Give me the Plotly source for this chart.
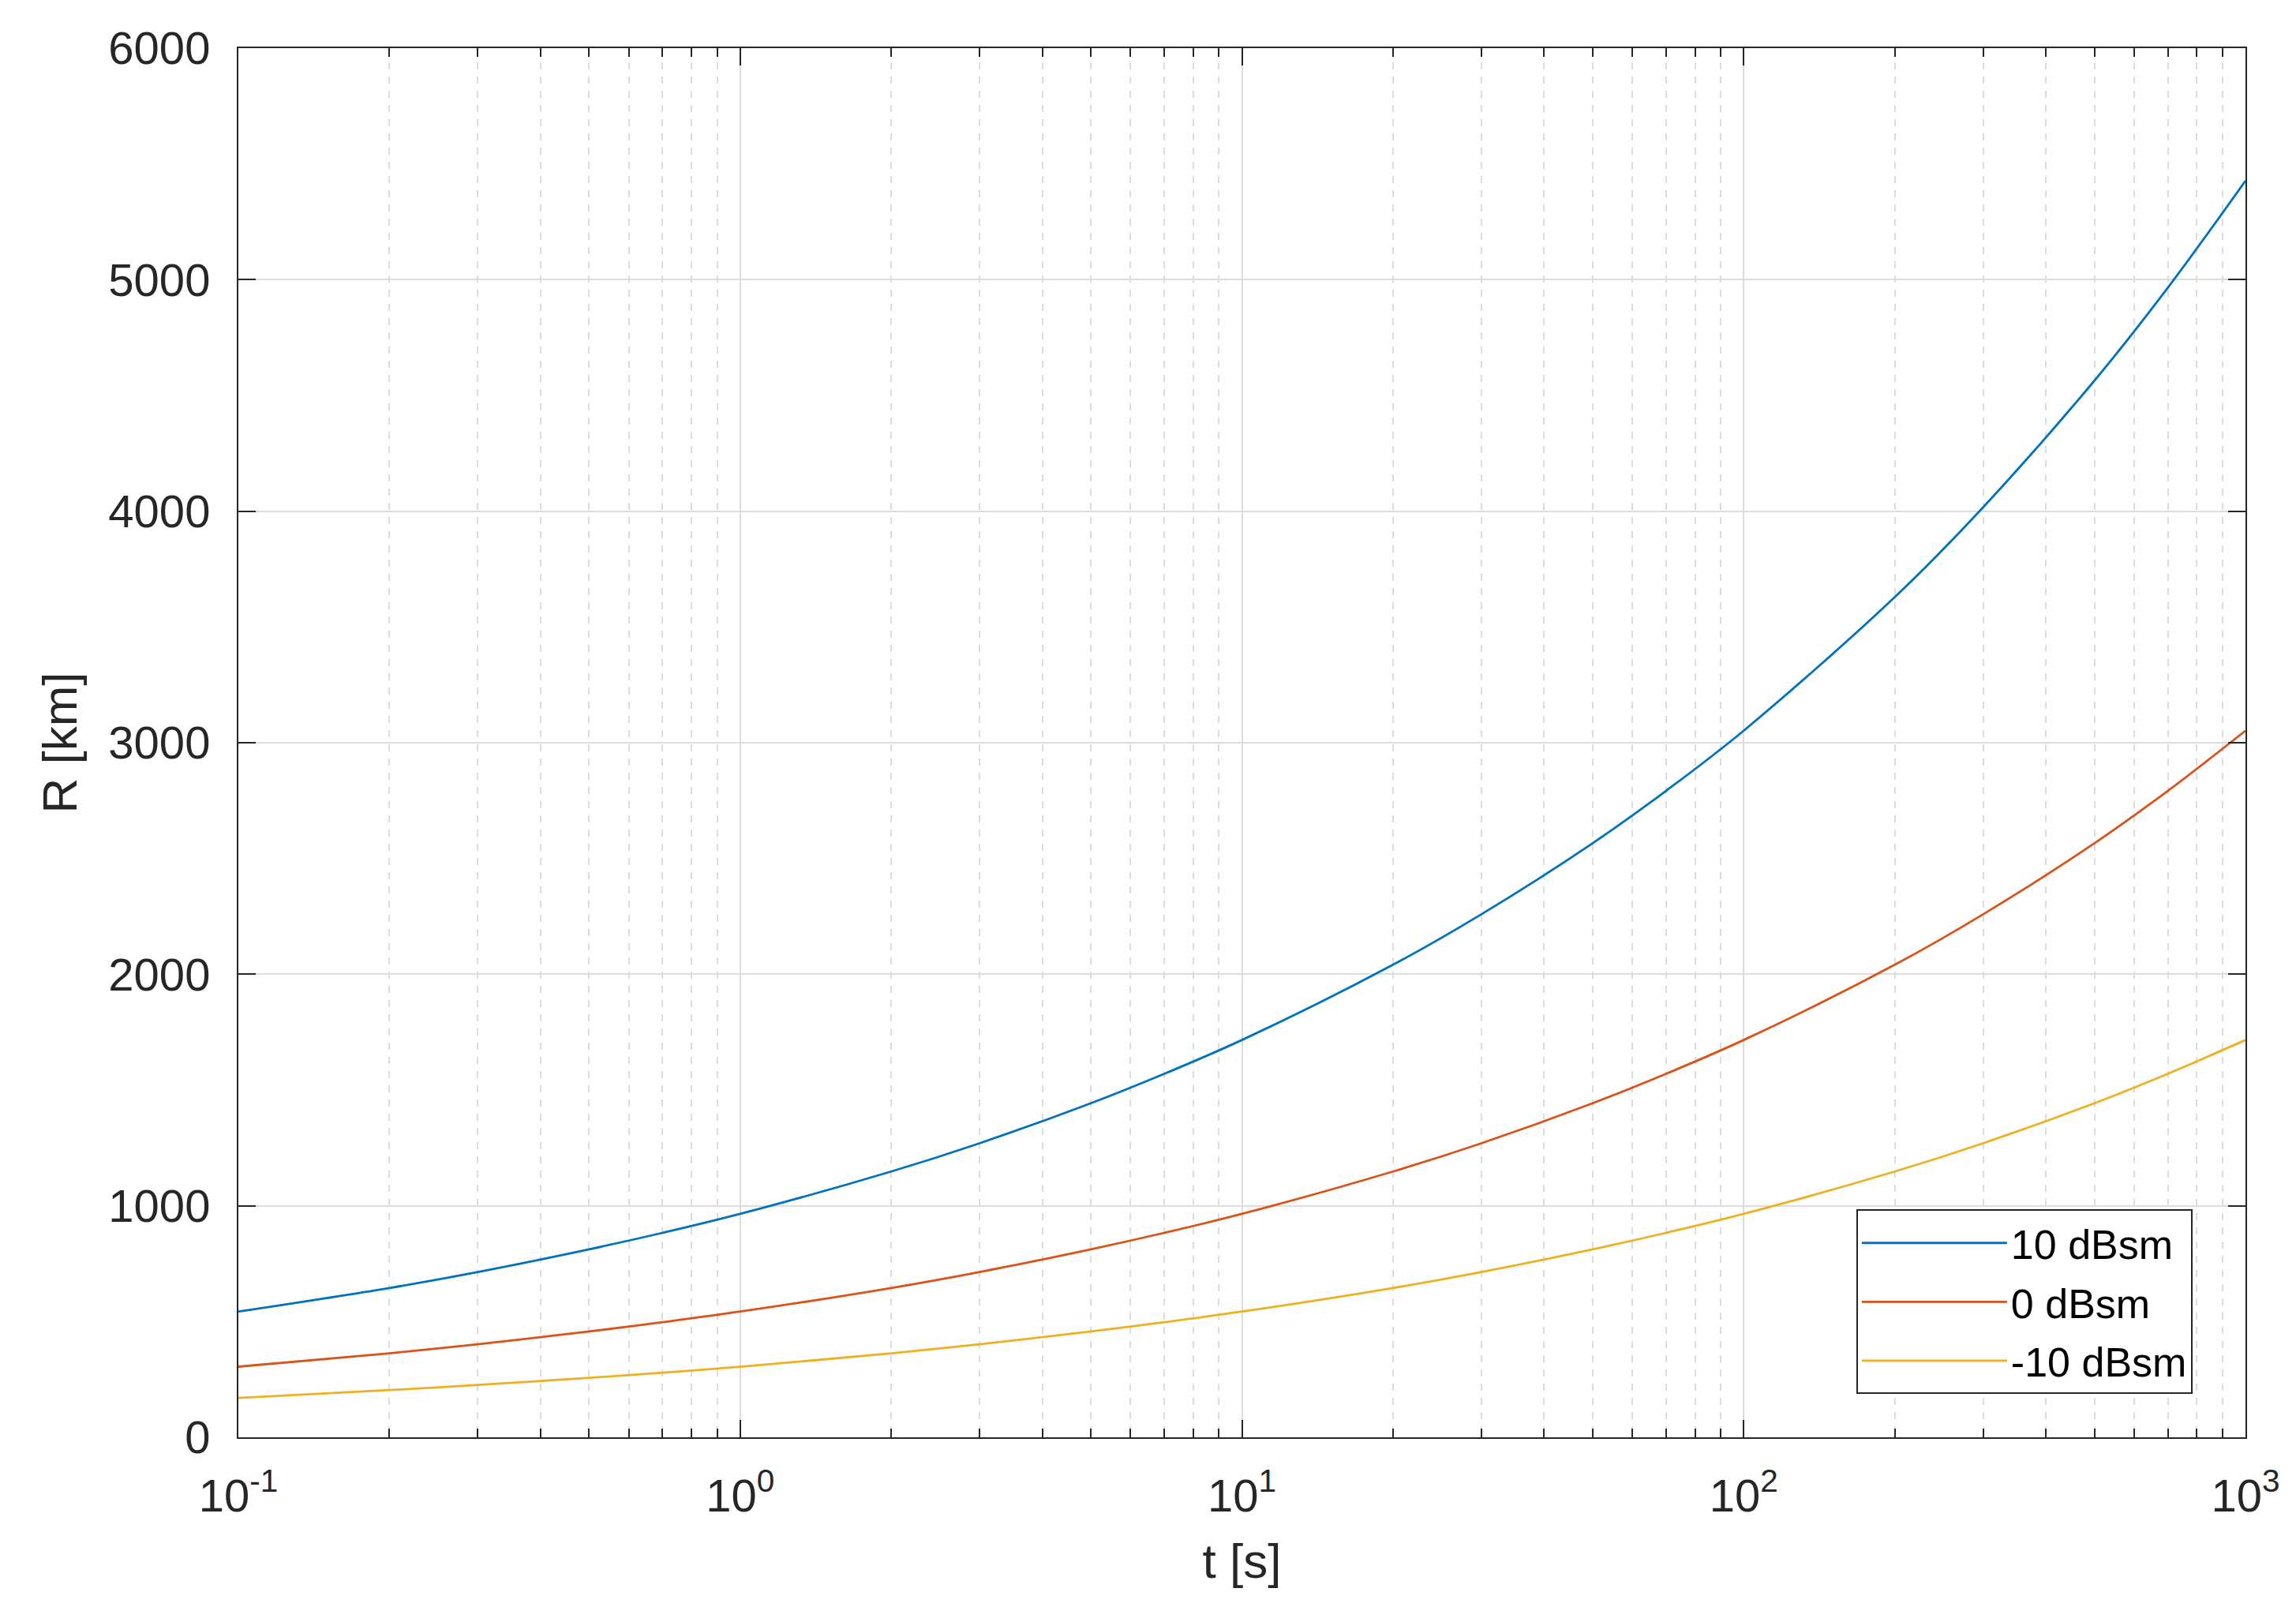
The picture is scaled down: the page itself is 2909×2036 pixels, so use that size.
import plotly.graph_objects as go

# time samples [s] and read-off ranges [km]
t_s = [0.1, 0.2, 0.3, 0.5, 0.7, 1, 2, 3, 5, 7, 10, 20, 30, 50, 70,
       100, 200, 300, 500, 700, 1000]
r_10dbsm = [543, 645, 714, 812, 883, 965, 1148, 1270, 1443, 1570, 1716,
            2041, 2259, 2566, 2792, 3052, 3629, 4017, 4564, 4965, 5427]
r_0dbsm = [305, 363, 402, 457, 497, 543, 645, 714, 812, 883, 965,
           1148, 1270, 1443, 1570, 1716, 2041, 2259, 2566, 2792, 3052]
r_m10dbsm = [170, 204, 226, 257, 279, 305, 363, 402, 457, 497, 543,
             645, 714, 812, 883, 965, 1148, 1270, 1443, 1570, 1716]

series_names = ["10 dBsm", "0 dBsm", "-10 dBsm"]
series_colors = ["#0072BD", "#D95319", "#EDB120"]

x_tickvals = [0.1, 1, 10, 100, 1000]
x_ticktext = ["10<sup>-1</sup>", "10<sup>0</sup>", "10<sup>1</sup>",
              "10<sup>2</sup>", "10<sup>3</sup>"]
x_minor = [m * d for d in (0.1, 1, 10, 100) for m in range(2, 10)]

FONT = "Arial, 'Liberation Sans', Helvetica, sans-serif"
AX = "#262626"

fig = go.Figure()
for name, ys, col in zip(series_names, [r_10dbsm, r_0dbsm, r_m10dbsm], series_colors):
    fig.add_trace(go.Scatter(
        x=t_s, y=ys, name=name, mode="lines", legendgroup=name,
        line=dict(color=col, width=2.8, shape="spline"),
    ))

fig.update_layout(
    width=2909, height=2036,
    margin=dict(l=294, r=72, t=53, b=223),
    paper_bgcolor="white", plot_bgcolor="white",
    font=dict(family=FONT, size=58, color=AX),
    legend=dict(
        x=0.9736, y=0.031, xanchor="right", yanchor="bottom",
        bgcolor="white", bordercolor=AX, borderwidth=2,
        font=dict(size=52, color="#000000"),
        itemwidth=184,
        tracegroupgap=4,
    ),
    xaxis=dict(
        type="log", range=[-1, 3],
        tickvals=x_tickvals, ticktext=x_ticktext,
        ticks="inside", ticklen=22, tickwidth=2, tickcolor=AX,
        showline=True, linecolor=AX, linewidth=2, mirror="allticks",
        showgrid=True, gridcolor="#dcdcdc", gridwidth=2,
        minor=dict(tickvals=x_minor, ticks="inside", ticklen=11, tickwidth=2,
                   tickcolor=AX, showgrid=True, gridcolor="#dcdcdc",
                   gridwidth=2, griddash="dash"),
        zeroline=False, ticklabelstandoff=22,
        title=dict(text="t [s]", font=dict(size=62), standoff=30),
    ),
    yaxis=dict(
        range=[0, 6000], dtick=1000,
        ticks="inside", ticklen=22, tickwidth=2, tickcolor=AX,
        showline=True, linecolor=AX, linewidth=2, mirror="allticks",
        showgrid=True, gridcolor="#dcdcdc", gridwidth=2,
        zeroline=False, ticklabelstandoff=22,
        title=dict(text="R [km]", font=dict(size=62), standoff=20),
    ),
)

fig.write_html("out.html")
